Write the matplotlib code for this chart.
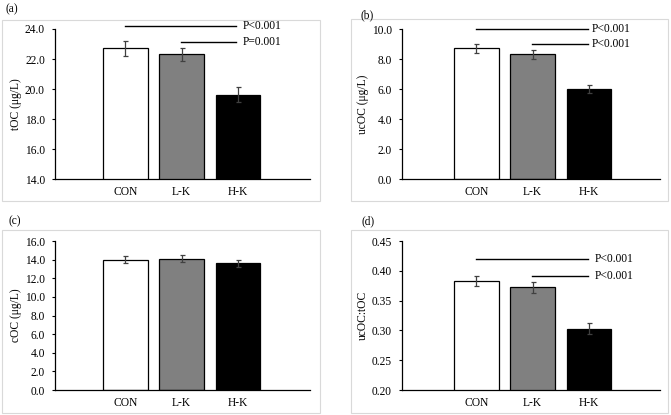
import matplotlib
matplotlib.use("Agg")
import matplotlib.pyplot as plt
from matplotlib.patches import Rectangle

plt.rcParams['font.family'] = ['Liberation Serif', 'DejaVu Serif']

categories = ["CON", "L-K", "H-K"]
bar_colors = ["#ffffff", "#808080", "#000000"]

toc_mean = [22.7, 22.3, 19.6]
toc_err = [0.5, 0.45, 0.5]
ucoc_mean = [8.7, 8.3, 6.0]
ucoc_err = [0.3, 0.3, 0.28]
coc_mean = [14.0, 14.1, 13.6]
coc_err = [0.4, 0.4, 0.35]
ratio_mean = [0.383, 0.372, 0.303]
ratio_err = [0.009, 0.01, 0.009]

W, H = 671, 415
FS = 8.3
fig = plt.figure(figsize=(W / 100, H / 100), dpi=100)


def px_axes(l, r, t, b):
    return fig.add_axes([l / W, 1 - b / H, (r - l) / W, (b - t) / H])


def border(l, r, t, b):
    fig.patches.append(Rectangle((l / W, 1 - b / H), (r - l) / W, (b - t) / H,
                                 transform=fig.transFigure, fill=False,
                                 edgecolor="#d9d9d9", linewidth=0.8))


def panel(ax, means, errs, ylim, yticks, fmt, ylabel, xlim, sigs):
    x = list(range(len(categories)))
    ax.bar(x, means, width=0.79, color=bar_colors, edgecolor="black", linewidth=0.9, zorder=2)
    ax.errorbar(x, means, yerr=errs, fmt="none", ecolor="#404040", elinewidth=0.9,
                capsize=1.8, capthick=0.9, zorder=3)
    ax.set_xlim(*xlim)
    ax.set_ylim(*ylim)
    ax.set_yticks(yticks)
    ax.set_yticklabels([fmt.format(v) for v in yticks], fontsize=FS)
    ax.set_xticks(x)
    ax.set_xticklabels(categories, fontsize=FS)
    ax.tick_params(axis="x", length=0, pad=5)
    ax.tick_params(axis="y", length=2.2, width=0.8, pad=5, direction="out")
    for s in ["top", "right"]:
        ax.spines[s].set_visible(False)
    ax.spines["left"].set_linewidth(0.9)
    ax.spines["bottom"].set_linewidth(0.9)
    ax.set_ylabel(ylabel, fontsize=FS, labelpad=2)
    for (x0, x1, y, txt, tx) in sigs:
        ax.plot([x0, x1], [y, y], color="black", linewidth=1.0, clip_on=False)
        ax.text(tx, y, txt, fontsize=FS, va="center", ha="left", clip_on=False)


# borders
border(2, 320, 20, 201)
border(351, 668, 19, 201)
border(2, 320, 230, 413)
border(351, 668, 230, 413)

axa = px_axes(55, 310, 29, 179)
panel(axa, toc_mean, toc_err, (14, 24), [14, 16, 18, 20, 22, 24], "{:.1f}", "tOC (μg/L)",
      (-1.25, 3.28),
      [(0, 1.96, 24.2, "P<0.001", 2.08), (0.99, 1.96, 23.13, "P=0.001", 2.08)])

axb = px_axes(402, 660, 29, 179)
panel(axb, ucoc_mean, ucoc_err, (0, 10), [0, 2, 4, 6, 8, 10], "{:.1f}", "ucOC (μg/L)",
      (-1.32, 3.26),
      [(0, 1.98, 10.0, "P<0.001", 2.04), (0.99, 1.98, 9.0, "P<0.001", 2.04)])

axc = px_axes(55, 310, 241, 390)
panel(axc, coc_mean, coc_err, (0, 16), [0, 2, 4, 6, 8, 10, 12, 14, 16], "{:.1f}", "cOC (μg/L)",
      (-1.25, 3.28), [])

axd = px_axes(402, 660, 241, 390)
panel(axd, ratio_mean, ratio_err, (0.20, 0.45), [0.20, 0.25, 0.30, 0.35, 0.40, 0.45], "{:.2f}",
      "ucOC:tOC", (-1.32, 3.26),
      [(0, 1.98, 0.42, "P<0.001", 2.1), (0.99, 1.98, 0.391, "P<0.001", 2.1)])

# panel labels
fig.text(12 / W, 1 - 9 / H, "(a)", fontsize=FS, ha="center", va="center")
fig.text(367 / W, 1 - 15 / H, "(b)", fontsize=FS, ha="center", va="center")
fig.text(15 / W, 1 - 221 / H, "(c)", fontsize=FS, ha="center", va="center")
fig.text(368 / W, 1 - 221 / H, "(d)", fontsize=FS, ha="center", va="center")

fig.savefig("out.png", dpi=100)
